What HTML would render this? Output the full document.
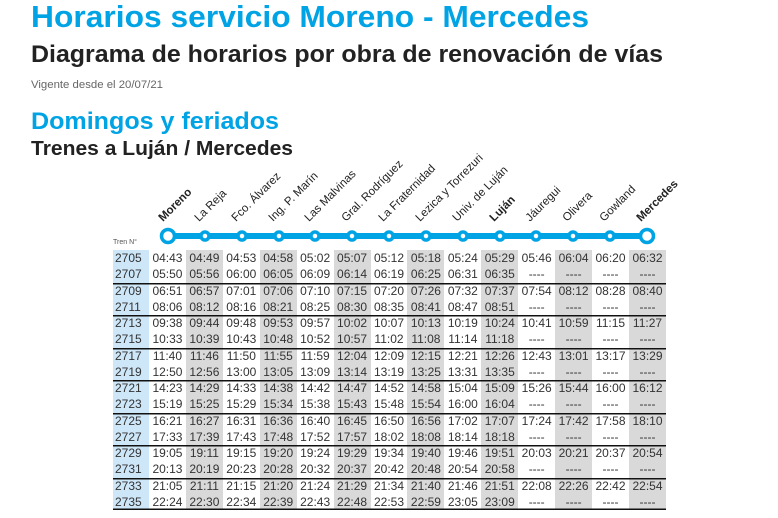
<!DOCTYPE html>
<html><head><meta charset="utf-8"><style>
body{margin:0;width:778px;height:518px;background:#fff;position:relative;overflow:hidden;font-family:"Liberation Sans",sans-serif}
svg{position:absolute;left:0;top:0}
table{position:absolute;left:113px;top:250px;border-collapse:collapse;border-spacing:0;table-layout:fixed;width:553px;font-size:12px;color:#333}
tr{height:16.25px}
td{height:16.25px;padding:0;border:0;text-align:center;line-height:16.25px;white-space:nowrap;overflow:hidden;box-sizing:border-box}
td:first-child{background:#cde6f8;width:36px;text-align:left;padding-left:2px}
td:nth-child(odd):not(:first-child){background:#d9d9d9}
tr.g td{box-shadow:inset 0 1.5px 0 #111}
tr.last td{box-shadow:inset 0 -1.5px 0 #111}
</style></head><body>
<svg width="778" height="518">
<text x="31" y="27" font-size="31" font-weight="bold" fill="#00a3e4" textLength="558" lengthAdjust="spacingAndGlyphs">Horarios servicio Moreno - Mercedes</text>
<text x="31" y="62" font-size="24" font-weight="bold" fill="#222" textLength="632" lengthAdjust="spacingAndGlyphs">Diagrama de horarios por obra de renovación de vías</text>
<text x="31" y="88" font-size="11" fill="#666" textLength="132" lengthAdjust="spacingAndGlyphs">Vigente desde el 20/07/21</text>
<text x="31" y="129" font-size="24" font-weight="bold" fill="#00a3e4" textLength="248" lengthAdjust="spacingAndGlyphs">Domingos y feriados</text>
<text x="31" y="155" font-size="20" font-weight="bold" fill="#222" textLength="262" lengthAdjust="spacingAndGlyphs">Trenes a Luján / Mercedes</text>
<text x="113" y="244" font-size="7" fill="#555">Tren N°</text>
<line x1="162" y1="236" x2="654" y2="236" stroke="#00a3e4" stroke-width="6"/>
<g fill="#fff" stroke="#00a3e4" stroke-width="3.5">
<circle cx="168" cy="236" r="6.5"/>
<circle cx="205" cy="236" r="4"/><circle cx="242" cy="236" r="4"/><circle cx="279" cy="236" r="4"/><circle cx="315" cy="236" r="4"/><circle cx="352" cy="236" r="4"/><circle cx="389" cy="236" r="4"/><circle cx="426" cy="236" r="4"/><circle cx="463" cy="236" r="4"/><circle cx="500" cy="236" r="4"/><circle cx="536" cy="236" r="4"/><circle cx="573" cy="236" r="4"/><circle cx="610" cy="236" r="4"/>
<circle cx="647" cy="236" r="6.5"/>
</g>
<g font-size="11.5" fill="#222">
<text transform="translate(163,222) rotate(-45)" font-weight="bold">Moreno</text>
<text transform="translate(199,222) rotate(-45)">La Reja</text>
<text transform="translate(236,222) rotate(-45)">Fco. Álvarez</text>
<text transform="translate(273,222) rotate(-45)">Ing. P. Marín</text>
<text transform="translate(309,222) rotate(-45)">Las Malvinas</text>
<text transform="translate(346,222) rotate(-45)">Gral. Rodríguez</text>
<text transform="translate(383,222) rotate(-45)">La Fraternidad</text>
<text transform="translate(420,222) rotate(-45)">Lezica y Torrezuri</text>
<text transform="translate(457,222) rotate(-45)">Univ. de Luján</text>
<text transform="translate(494,222) rotate(-45)" font-weight="bold">Luján</text>
<text transform="translate(530,222) rotate(-45)">Jáuregui</text>
<text transform="translate(567,222) rotate(-45)">Olivera</text>
<text transform="translate(604,222) rotate(-45)">Gowland</text>
<text transform="translate(641,222) rotate(-45)" font-weight="bold">Mercedes</text>
</g>
</svg>
<table>
<tr><td>2705</td><td>04:43</td><td>04:49</td><td>04:53</td><td>04:58</td><td>05:02</td><td>05:07</td><td>05:12</td><td>05:18</td><td>05:24</td><td>05:29</td><td>05:46</td><td>06:04</td><td>06:20</td><td>06:32</td></tr>
<tr><td>2707</td><td>05:50</td><td>05:56</td><td>06:00</td><td>06:05</td><td>06:09</td><td>06:14</td><td>06:19</td><td>06:25</td><td>06:31</td><td>06:35</td><td>----</td><td>----</td><td>----</td><td>----</td></tr>
<tr class="g"><td>2709</td><td>06:51</td><td>06:57</td><td>07:01</td><td>07:06</td><td>07:10</td><td>07:15</td><td>07:20</td><td>07:26</td><td>07:32</td><td>07:37</td><td>07:54</td><td>08:12</td><td>08:28</td><td>08:40</td></tr>
<tr><td>2711</td><td>08:06</td><td>08:12</td><td>08:16</td><td>08:21</td><td>08:25</td><td>08:30</td><td>08:35</td><td>08:41</td><td>08:47</td><td>08:51</td><td>----</td><td>----</td><td>----</td><td>----</td></tr>
<tr class="g"><td>2713</td><td>09:38</td><td>09:44</td><td>09:48</td><td>09:53</td><td>09:57</td><td>10:02</td><td>10:07</td><td>10:13</td><td>10:19</td><td>10:24</td><td>10:41</td><td>10:59</td><td>11:15</td><td>11:27</td></tr>
<tr><td>2715</td><td>10:33</td><td>10:39</td><td>10:43</td><td>10:48</td><td>10:52</td><td>10:57</td><td>11:02</td><td>11:08</td><td>11:14</td><td>11:18</td><td>----</td><td>----</td><td>----</td><td>----</td></tr>
<tr class="g"><td>2717</td><td>11:40</td><td>11:46</td><td>11:50</td><td>11:55</td><td>11:59</td><td>12:04</td><td>12:09</td><td>12:15</td><td>12:21</td><td>12:26</td><td>12:43</td><td>13:01</td><td>13:17</td><td>13:29</td></tr>
<tr><td>2719</td><td>12:50</td><td>12:56</td><td>13:00</td><td>13:05</td><td>13:09</td><td>13:14</td><td>13:19</td><td>13:25</td><td>13:31</td><td>13:35</td><td>----</td><td>----</td><td>----</td><td>----</td></tr>
<tr class="g"><td>2721</td><td>14:23</td><td>14:29</td><td>14:33</td><td>14:38</td><td>14:42</td><td>14:47</td><td>14:52</td><td>14:58</td><td>15:04</td><td>15:09</td><td>15:26</td><td>15:44</td><td>16:00</td><td>16:12</td></tr>
<tr><td>2723</td><td>15:19</td><td>15:25</td><td>15:29</td><td>15:34</td><td>15:38</td><td>15:43</td><td>15:48</td><td>15:54</td><td>16:00</td><td>16:04</td><td>----</td><td>----</td><td>----</td><td>----</td></tr>
<tr class="g"><td>2725</td><td>16:21</td><td>16:27</td><td>16:31</td><td>16:36</td><td>16:40</td><td>16:45</td><td>16:50</td><td>16:56</td><td>17:02</td><td>17:07</td><td>17:24</td><td>17:42</td><td>17:58</td><td>18:10</td></tr>
<tr><td>2727</td><td>17:33</td><td>17:39</td><td>17:43</td><td>17:48</td><td>17:52</td><td>17:57</td><td>18:02</td><td>18:08</td><td>18:14</td><td>18:18</td><td>----</td><td>----</td><td>----</td><td>----</td></tr>
<tr class="g"><td>2729</td><td>19:05</td><td>19:11</td><td>19:15</td><td>19:20</td><td>19:24</td><td>19:29</td><td>19:34</td><td>19:40</td><td>19:46</td><td>19:51</td><td>20:03</td><td>20:21</td><td>20:37</td><td>20:54</td></tr>
<tr><td>2731</td><td>20:13</td><td>20:19</td><td>20:23</td><td>20:28</td><td>20:32</td><td>20:37</td><td>20:42</td><td>20:48</td><td>20:54</td><td>20:58</td><td>----</td><td>----</td><td>----</td><td>----</td></tr>
<tr class="g"><td>2733</td><td>21:05</td><td>21:11</td><td>21:15</td><td>21:20</td><td>21:24</td><td>21:29</td><td>21:34</td><td>21:40</td><td>21:46</td><td>21:51</td><td>22:08</td><td>22:26</td><td>22:42</td><td>22:54</td></tr>
<tr class="last"><td>2735</td><td>22:24</td><td>22:30</td><td>22:34</td><td>22:39</td><td>22:43</td><td>22:48</td><td>22:53</td><td>22:59</td><td>23:05</td><td>23:09</td><td>----</td><td>----</td><td>----</td><td>----</td></tr>
</table>
</body></html>
